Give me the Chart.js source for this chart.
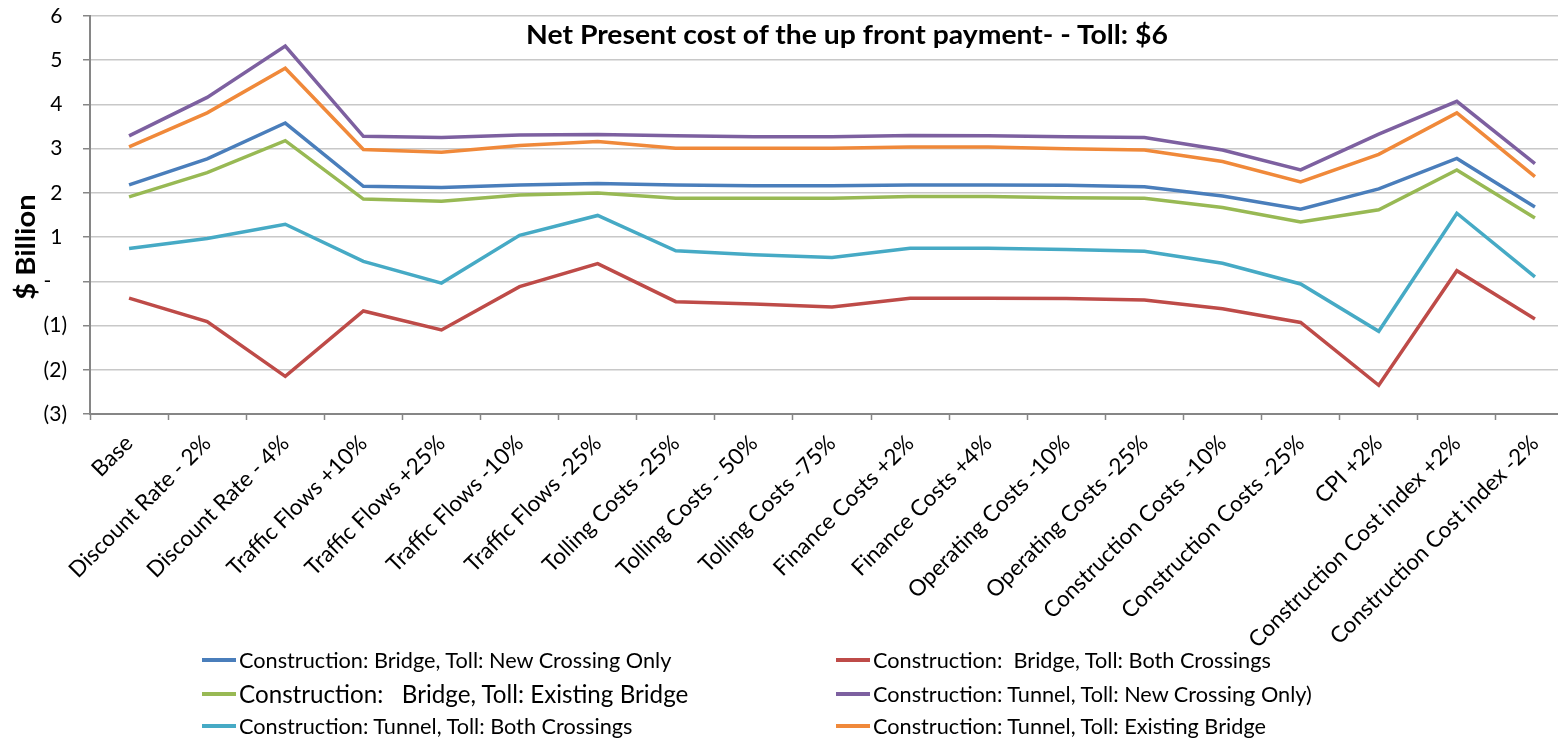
<!DOCTYPE html>
<html>
<head>
<meta charset="utf-8">
<script src="https://cdn.jsdelivr.net/npm/chart.js@4/dist/chart.umd.min.js"></script>
<style>
  html, body { margin: 0; padding: 0; background: #fff; overflow: hidden; }
  #wrap { position: relative; width: 1558px; height: 745px; overflow: hidden; }
  #cv { position: absolute; left: 0; top: 0; }
  .title { position: absolute; top: 21px; left: 847px; transform: translateX(-50%) scaleX(1.09);
           font: bold 26px/26px Lato, sans-serif; color: #000; white-space: nowrap; }
  .ytitle { position: absolute; left: 25px; top: 247px; transform: translate(-50%, -50%) rotate(-90deg) scaleX(1.12);
            font: bold 26px/26px Lato, sans-serif; color: #000; white-space: nowrap; }
  .legend { position: absolute; left: 0; top: 0; width: 1558px; height: 745px; pointer-events: none; }
  .item { position: absolute; display: flex; align-items: center; transform: translateY(-50%);
          font: 21.7px/28px Lato, sans-serif; color: #000; white-space: pre; }
  .item .sw { display: inline-block; width: 34px; height: 4px; margin-right: 3px; }
</style>
</head>
<body>
<div id="wrap">
  <canvas id="cv" width="1576" height="745"></canvas>
  <div class="title">Net Present cost of the up front payment- - Toll: $6</div>
  <div class="ytitle">$ Billion</div>
  <div class="legend" id="legend"></div>
</div>
<script>
// Sensitivity scenarios along the category axis
const categories = [
  'Base', 'Discount Rate - 2%', 'Discount Rate - 4%', 'Traffic Flows +10%', 'Traffic Flows +25%',
  'Traffic Flows -10%', 'Traffic Flows -25%', 'Tolling Costs -25%', 'Tolling Costs - 50%',
  'Tolling Costs -75%', 'Finance Costs +2%', 'Finance Costs +4%', 'Operating Costs -10%',
  'Operating Costs -25%', 'Construction Costs -10%', 'Construction Costs -25%', 'CPI +2%',
  'Construction Cost index +2%', 'Construction Cost index -2%'
];

// Net present cost, $ billion, per construction / toll option
const bridgeNewCrossing   = [2.18, 2.77, 3.58, 2.15, 2.12, 2.18, 2.21, 2.18, 2.16, 2.16, 2.18, 2.18, 2.17, 2.14, 1.93, 1.63, 2.09, 2.78, 1.68];
const bridgeBothCrossings = [-0.38, -0.91, -2.15, -0.67, -1.10, -0.12, 0.40, -0.46, -0.51, -0.58, -0.38, -0.38, -0.39, -0.42, -0.62, -0.93, -2.35, 0.24, -0.85];
const bridgeExisting      = [1.91, 2.46, 3.18, 1.86, 1.81, 1.95, 2.00, 1.88, 1.88, 1.88, 1.92, 1.92, 1.89, 1.88, 1.67, 1.34, 1.62, 2.52, 1.43];
const tunnelNewCrossing   = [3.29, 4.16, 5.32, 3.28, 3.25, 3.31, 3.32, 3.29, 3.27, 3.27, 3.30, 3.29, 3.27, 3.25, 2.97, 2.52, 3.33, 4.07, 2.66];
const tunnelBothCrossings = [0.74, 0.97, 1.29, 0.45, -0.04, 1.04, 1.49, 0.69, 0.60, 0.54, 0.75, 0.75, 0.72, 0.68, 0.41, -0.06, -1.13, 1.54, 0.10];
const tunnelExisting      = [3.04, 3.81, 4.82, 2.98, 2.92, 3.07, 3.16, 3.01, 3.01, 3.01, 3.04, 3.04, 3.00, 2.97, 2.71, 2.25, 2.87, 3.81, 2.37];

const seriesNames = [
  'Construction: Bridge, Toll: New Crossing Only',
  'Construction:  Bridge, Toll: Both Crossings',
  'Construction:   Bridge, Toll: Existing Bridge',
  'Construction: Tunnel, Toll: New Crossing Only)',
  'Construction: Tunnel, Toll: Both Crossings',
  'Construction: Tunnel, Toll: Existing Bridge'
];
const seriesValues = [bridgeNewCrossing, bridgeBothCrossings, bridgeExisting, tunnelNewCrossing, tunnelBothCrossings, tunnelExisting];
const seriesColors = ['#4A7EBB', '#BE4B48', '#98B954', '#7D60A0', '#46AAC5', '#F0893A'];

// Y axis range and step
const yMin = -3, yMax = 6, yStep = 1;

const FONT = 'Lato, sans-serif';

// Accounting-style axis labels: negatives in brackets, zero as a dash
function fmtTick(v) {
  if (v === 0) return '-\u2002\u2009\u2009';
  if (v < 0) return '(' + Math.abs(v) + ')';
  return v + '\u2008';
}

const datasets = seriesNames.map((name, i) => ({
  label: name,
  data: seriesValues[i],
  borderColor: seriesColors[i],
  backgroundColor: seriesColors[i],
  borderWidth: 3.5,
  pointRadius: 0,
  pointHoverRadius: 0,
  tension: 0,
  fill: false
}));

new Chart(document.getElementById('cv'), {
  type: 'line',
  data: { labels: categories, datasets },
  options: {
    responsive: false,
    animation: false,
    events: [],
    layout: { padding: { top: 16, right: 2, left: 0, bottom: 0 } },
    plugins: { legend: { display: false }, title: { display: false }, tooltip: { enabled: false } },
    scales: {
      x: {
        type: 'category',
        offset: true,
        grid: { offset: true, drawOnChartArea: false, drawTicks: true, tickLength: 6, tickColor: '#868686', tickWidth: 1.5 },
        border: { color: '#868686', width: 2 },
        ticks: {
          autoSkip: false, minRotation: 45, maxRotation: 45, padding: 10,
          color: '#000', font: { family: FONT, size: 22.5 }
        },
        afterFit(scale) { scale.height = 331; }
      },
      y: {
        min: yMin, max: yMax,
        grid: { color: '#c8c8c8', lineWidth: 1.5, drawTicks: true, tickLength: 7, tickColor: '#868686', tickWidth: 1.5 },
        border: { color: '#868686', width: 2 },
        ticks: {
          stepSize: yStep, padding: 16, color: '#000',
          font: { family: FONT, size: 21 },
          callback: (v) => fmtTick(v)
        },
        afterFit(scale) {
          scale.width = 90;
          // the end labels may overhang the plot edges; the layout padding covers them
          scale.paddingTop = 0;
          scale.paddingBottom = 0;
        }
      }
    }
  }
});

// Two-column legend below the category labels
const legendSlots = [
  { x: 202, y: 660 }, { x: 836, y: 660 },
  { x: 202, y: 694 }, { x: 836, y: 694 },
  { x: 202, y: 726 }, { x: 836, y: 726 }
];
const legendEl = document.getElementById('legend');
seriesNames.forEach((name, i) => {
  const it = document.createElement('div');
  it.className = 'item';
  it.style.left = legendSlots[i].x + 'px';
  it.style.top = legendSlots[i].y + 'px';
  if (i === 2) it.style.fontSize = '24.2px';
  const sw = document.createElement('span');
  sw.className = 'sw';
  sw.style.background = seriesColors[i];
  const tx = document.createElement('span');
  tx.textContent = name;
  it.appendChild(sw);
  it.appendChild(tx);
  legendEl.appendChild(it);
});
</script>
</body>
</html>
